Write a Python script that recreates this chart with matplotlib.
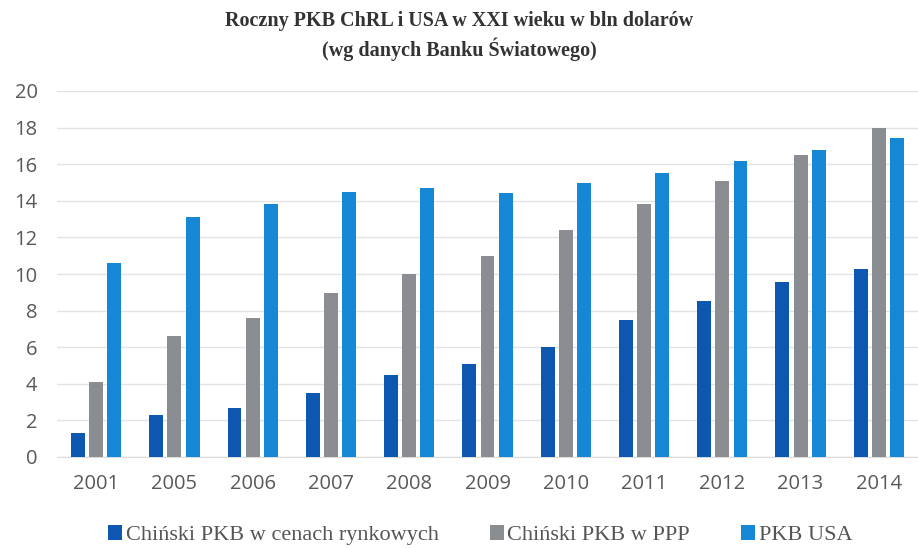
import matplotlib
matplotlib.use("Agg")
import matplotlib.pyplot as plt
import numpy as np

years = ["2001", "2005", "2006", "2007", "2008", "2009", "2010", "2011", "2012", "2013", "2014"]
china_market = [1.3, 2.3, 2.7, 3.5, 4.5, 5.1, 6.0, 7.5, 8.5, 9.55, 10.3]
china_ppp = [4.1, 6.6, 7.6, 8.95, 10.0, 11.0, 12.4, 13.85, 15.1, 16.5, 18.0]
usa = [10.6, 13.1, 13.85, 14.5, 14.7, 14.4, 15.0, 15.5, 16.2, 16.8, 17.45]
series_names = ["Chiński PKB w cenach rynkowych", "Chiński PKB w PPP", "PKB USA"]
colors = ["#0d57b0", "#8a8d91", "#1687d5"]
yticks = [0, 2, 4, 6, 8, 10, 12, 14, 16, 18, 20]

fig = plt.figure(figsize=(9.18, 5.48), dpi=100)
ax = fig.add_axes([57 / 918, 1 - 457 / 548, (918 - 57) / 918, (457 - 91) / 548])

x = np.arange(len(years))
w = 0.178
off = 0.232
for i, (vals, name, c) in enumerate(zip([china_market, china_ppp, usa], series_names, colors)):
    ax.bar(x + (i - 1) * off, vals, width=w, color=c, label=name, zorder=3)

ax.set_ylim(0, 20)
ax.set_xlim(-0.5, len(years) - 0.5)
ax.set_yticks(yticks)
ax.set_xticks(x)
ax.set_xticklabels(years)
ax.grid(axis="y", color="#e3e3e3", linewidth=1, zorder=0)
for s in ["top", "right", "left"]:
    ax.spines[s].set_visible(False)
ax.spines["bottom"].set_color("#dcdcdc")
ax.tick_params(axis="both", length=0, labelsize=14.5, labelcolor="#595959")
ax.tick_params(axis="y", pad=14)
ax.tick_params(axis="x", pad=12)
for lab in ax.get_xticklabels() + ax.get_yticklabels():
    lab.set_fontfamily("Open Sans")

fig.text(0.5, 1 - 36 / 548, "Roczny PKB ChRL i USA w XXI wieku w bln dolarów\n(wg danych Banku Światowego)",
         ha="center", va="center", fontsize=14.5, fontweight="bold", family="Liberation Serif",
         color="#333333", linespacing=1.3)

fig.legend(loc="center", bbox_to_anchor=(0.523, 1 - 535 / 548), ncol=3, frameon=False,
           prop={"family": "Liberation Serif", "size": 16}, handlelength=0.65, handleheight=0.65,
           handletextpad=0.15, columnspacing=2.3, labelcolor="#555555")

fig.savefig("out.png", dpi=100)
